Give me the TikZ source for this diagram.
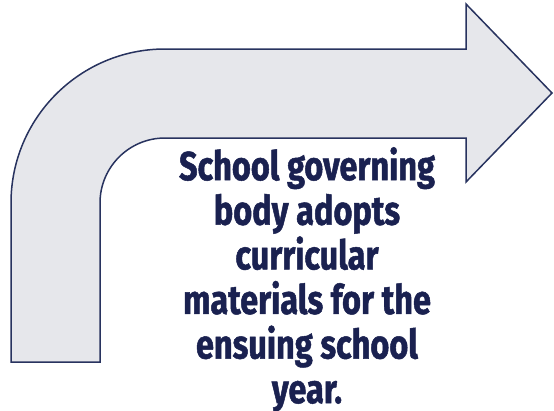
\documentclass[tikz,border=0pt]{standalone}
\usepackage{fontspec}
\newfontfamily\labelfont[FakeStretch=0.8,FakeBold=1.2]{Fira Sans}
\definecolor{arrowfill}{HTML}{E6E7EB}
\definecolor{arrowline}{HTML}{28335F}
\definecolor{labelink}{HTML}{1A2150}
\begin{document}
\begin{tikzpicture}[x=1pt,y=-1pt,
  bentarrow/.style={fill=arrowfill,draw=arrowline,line width=1.5pt,line join=miter},
  steplabel/.style={inner sep=0pt,align=center,text=labelink,
    font=\labelfont\bfseries\fontsize{40.6}{44.6}\selectfont}]
\useasboundingbox (0,0) rectangle (554,410);
% bent arrow: vertical leg, rounded corner, shaft and head
\path[bentarrow] (11,362) -- (11,203)
  .. controls (11,118) and (80,49) .. (165,49)
  -- (466,49) -- (466,4) -- (552,93) -- (466,182) -- (466,138) -- (165,138)
  .. controls (129.1,138) and (100,167.1) .. (100,203)
  -- (100,362) -- cycle;
\node[steplabel,anchor=north] (label) at (307,147)
  {School governing\\body adopts\\curricular\\materials for the\\ensuing school\\year.};
\end{tikzpicture}
\end{document}
